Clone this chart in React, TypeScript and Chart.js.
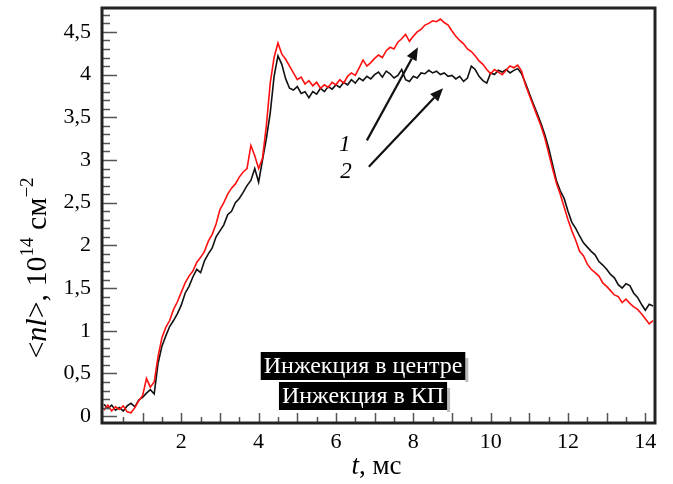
import React, { useEffect, useRef } from "react";
import { Chart, registerables } from "chart.js";

Chart.register(...registerables);

// ---- data ----
const timeMs = [
  0.0, 0.1, 0.2, 0.3, 0.4, 0.5, 0.6, 0.7, 0.8, 0.9,
  1.0, 1.1, 1.2, 1.3, 1.4, 1.5, 1.6, 1.7, 1.8, 1.9,
  2.0, 2.1, 2.2, 2.3, 2.4, 2.5, 2.6, 2.7, 2.8, 2.9,
  3.0, 3.1, 3.2, 3.3, 3.4, 3.5, 3.6, 3.7, 3.8, 3.9,
  4.0, 4.1, 4.2, 4.3, 4.4, 4.5, 4.6, 4.7, 4.8, 4.9,
  5.0, 5.1, 5.2, 5.3, 5.4, 5.5, 5.6, 5.7, 5.8, 5.9,
  6.0, 6.1, 6.2, 6.3, 6.4, 6.5, 6.6, 6.7, 6.8, 6.9,
  7.0, 7.1, 7.2, 7.3, 7.4, 7.5, 7.6, 7.7, 7.8, 7.9,
  8.0, 8.1, 8.2, 8.3, 8.4, 8.5, 8.6, 8.7, 8.8, 8.9,
  9.0, 9.1, 9.2, 9.3, 9.4, 9.5, 9.6, 9.7, 9.8, 9.9,
  10.0, 10.1, 10.2, 10.3, 10.4, 10.5, 10.6, 10.7, 10.8, 10.9,
  11.0, 11.1, 11.2, 11.3, 11.4, 11.5, 11.6, 11.7, 11.8, 11.9,
  12.0, 12.1, 12.2, 12.3, 12.4, 12.5, 12.6, 12.7, 12.8, 12.9,
  13.0, 13.1, 13.2, 13.3, 13.4, 13.5, 13.6, 13.7, 13.8, 13.9,
  14.0, 14.1, 14.2,
];

// curve 1 (red): injection in the centre
const nlCenter = [
  0.07, 0.13, 0.06, 0.11, 0.08, 0.12, 0.05, 0.04, 0.10, 0.18,
  0.24, 0.44, 0.34, 0.40, 0.70, 0.92, 1.04, 1.12, 1.25, 1.34,
  1.45, 1.56, 1.64, 1.70, 1.80, 1.86, 1.93, 2.05, 2.13, 2.25,
  2.42, 2.50, 2.60, 2.67, 2.72, 2.80, 2.86, 2.90, 3.17, 3.05,
  2.90, 3.02, 3.40, 3.90, 4.20, 4.37, 4.24, 4.18, 4.10, 4.02,
  3.94, 3.97, 3.89, 3.93, 3.87, 3.91, 3.84, 3.88, 3.85, 3.91,
  3.88, 3.94, 3.90, 3.98, 4.02, 3.99, 4.08, 4.17, 4.10, 4.14,
  4.19, 4.23, 4.20, 4.28, 4.32, 4.30, 4.38, 4.42, 4.47, 4.39,
  4.45, 4.50, 4.53, 4.58, 4.60, 4.63, 4.62, 4.65, 4.61, 4.58,
  4.51, 4.45, 4.40, 4.36, 4.30, 4.27, 4.22, 4.16, 4.12, 4.06,
  4.01, 4.06, 4.03, 4.00, 4.05, 4.10, 4.08, 4.11, 4.04, 3.88,
  3.76, 3.64, 3.52, 3.40, 3.26, 3.08, 2.90, 2.73, 2.60, 2.45,
  2.30, 2.17, 2.06, 1.93, 1.88, 1.78, 1.72, 1.68, 1.64, 1.56,
  1.52, 1.47, 1.42, 1.40, 1.33, 1.37, 1.32, 1.28, 1.25, 1.20,
  1.14, 1.08, 1.12,
];

// curve 2 (black): injection in the КП
const nlKP = [
  0.14, 0.09, 0.13, 0.07, 0.10, 0.06, 0.12, 0.15, 0.11, 0.19,
  0.22, 0.27, 0.31, 0.26, 0.62, 0.82, 0.94, 1.05, 1.12, 1.20,
  1.30, 1.44, 1.52, 1.63, 1.72, 1.68, 1.82, 1.90, 1.97, 2.10,
  2.17, 2.24, 2.36, 2.40, 2.50, 2.55, 2.62, 2.70, 2.76, 2.90,
  2.74, 3.00, 3.25, 3.55, 3.98, 4.22, 4.12, 3.95, 3.84, 3.82,
  3.86, 3.78, 3.80, 3.73, 3.80, 3.77, 3.84, 3.80, 3.86, 3.83,
  3.88, 3.85, 3.91, 3.88, 3.94, 3.90, 3.96, 3.93, 3.98, 3.95,
  4.00, 4.03, 3.97, 4.04, 4.01, 3.96, 3.99, 4.06, 3.94, 3.92,
  3.98, 3.96, 4.02, 4.01, 4.05, 4.02, 4.04, 4.00, 4.02, 3.98,
  3.99, 3.95, 3.98, 3.92, 3.96, 4.10, 4.06, 3.98, 3.93, 3.90,
  4.02, 4.00, 4.05, 4.03, 4.06, 4.02, 4.05, 4.07, 4.01, 3.90,
  3.78, 3.66, 3.55, 3.43, 3.30, 3.14, 2.95, 2.76, 2.64, 2.55,
  2.40, 2.27, 2.20, 2.11, 2.03, 1.98, 1.93, 1.89, 1.81, 1.77,
  1.72, 1.66, 1.62, 1.54, 1.50, 1.55, 1.53, 1.44, 1.39, 1.31,
  1.24, 1.31, 1.29,
];

const yTickValues = [0, 0.5, 1, 1.5, 2, 2.5, 3, 3.5, 4, 4.5];
const xTickValues = [2, 4, 6, 8, 10, 12, 14];
const legendLabels = ["Инжекция в центре", "Инжекция в КП"];
const curveLabels = ["1", "2"];
// curve label anchors [x (ms), y]
const curveLabelPos = [
  [6.23, 3.18],
  [6.26, 2.86],
];
// arrows: [x0, y0, x1, y1] in data units (start -> tip)
const arrows = [
  [6.8, 3.23, 8.12, 4.32],
  [6.85, 2.92, 8.77, 3.84],
];

const SERIF = '"Liberation Serif", "Times New Roman", serif';

const decorPlugin = {
  id: "decor",
  afterDraw(chart: any) {
    const { ctx, chartArea: a, scales } = chart;
    const xs = scales.x;
    const ys = scales.y;
    ctx.save();

    // inner tick marks
    ctx.strokeStyle = "#555";
    ctx.lineWidth = 1.5;
    ctx.beginPath();
    for (let k = 0; k <= 47; k++) {
      const py = Math.round(ys.getPixelForValue(k / 10)) + 0.5;
      if (py < a.top + 2) continue;
      const len = k % 5 === 0 ? 15 : 8;
      ctx.moveTo(a.left, py);
      ctx.lineTo(a.left + len, py);
    }
    for (let k = 1; k <= 28; k++) {
      const px = Math.round(xs.getPixelForValue(k / 2)) + 0.5;
      if (px > a.right - 2) continue;
      const len = k % 2 === 0 ? 10 : 6;
      ctx.moveTo(px, a.bottom);
      ctx.lineTo(px, a.bottom - len);
    }
    ctx.stroke();

    // frame
    ctx.strokeStyle = "#222";
    ctx.lineWidth = 3;
    ctx.strokeRect(a.left, a.top, a.right - a.left, a.bottom - a.top);

    // arrows
    ctx.strokeStyle = "#111";
    ctx.fillStyle = "#111";
    ctx.lineWidth = 2.2;
    for (const [x0, y0, x1, y1] of arrows) {
      const sx = xs.getPixelForValue(x0);
      const sy = ys.getPixelForValue(y0);
      const ex = xs.getPixelForValue(x1);
      const ey = ys.getPixelForValue(y1);
      const ang = Math.atan2(ey - sy, ex - sx);
      const hl = 13;
      const hw = 5.5;
      const bx = ex - hl * Math.cos(ang);
      const by = ey - hl * Math.sin(ang);
      ctx.beginPath();
      ctx.moveTo(sx, sy);
      ctx.lineTo(bx, by);
      ctx.stroke();
      ctx.beginPath();
      ctx.moveTo(ex, ey);
      ctx.lineTo(bx + hw * Math.sin(ang), by - hw * Math.cos(ang));
      ctx.lineTo(bx - hw * Math.sin(ang), by + hw * Math.cos(ang));
      ctx.closePath();
      ctx.fill();
    }

    // curve labels
    ctx.fillStyle = "#000";
    ctx.font = `italic 23px ${SERIF}`;
    ctx.textAlign = "center";
    ctx.textBaseline = "middle";
    curveLabels.forEach((t, i) => {
      const [lx, ly] = curveLabelPos[i];
      ctx.fillText(t, xs.getPixelForValue(lx), ys.getPixelForValue(ly));
    });

    // legend boxes (white text on black)
    ctx.font = `24px ${SERIF}`;
    const cx = a.left + 0.472 * (a.right - a.left);
    const boxTops = [a.bottom - 71, a.bottom - 41];
    legendLabels.forEach((t, i) => {
      const w = ctx.measureText(t).width + 6;
      const x0 = cx - w / 2;
      const y0 = boxTops[i];
      ctx.fillStyle = "#bbb";
      ctx.fillRect(x0 + w, y0 + 6, 3, 24);
      ctx.fillStyle = "#000";
      ctx.fillRect(x0, y0, w, 28);
      ctx.fillStyle = "#fff";
      ctx.fillText(t, cx, y0 + 15);
    });

    // x-axis title: "t, мс"
    {
      ctx.fillStyle = "#000";
      ctx.textAlign = "left";
      ctx.textBaseline = "alphabetic";
      const parts = [
        { t: "t", f: `italic 27px ${SERIF}` },
        { t: ", мс", f: `27px ${SERIF}` },
      ];
      let total = 0;
      for (const p of parts) {
        ctx.font = p.f;
        total += ctx.measureText(p.t).width;
      }
      let x = (a.left + a.right) / 2 - total / 2 - 2;
      const y = 474;
      for (const p of parts) {
        ctx.font = p.f;
        ctx.fillText(p.t, x, y);
        x += ctx.measureText(p.t).width;
      }
    }

    // y-axis title: "<nl>, 10^14 см^-2"
    {
      const parts = [
        { t: "<", f: `30px ${SERIF}`, dy: 0 },
        { t: "nl", f: `italic 30px ${SERIF}`, dy: 0 },
        { t: ">, 10", f: `30px ${SERIF}`, dy: 0 },
        { t: "14", f: `19px ${SERIF}`, dy: -13 },
        { t: " см", f: `30px ${SERIF}`, dy: 0 },
        { t: "−2", f: `19px ${SERIF}`, dy: -13 },
      ];
      let total = 0;
      for (const p of parts) {
        ctx.font = p.f;
        total += ctx.measureText(p.t).width;
      }
      ctx.translate(46, 268);
      ctx.rotate(-Math.PI / 2);
      ctx.fillStyle = "#000";
      ctx.textAlign = "left";
      ctx.textBaseline = "alphabetic";
      let x = -total / 2;
      for (const p of parts) {
        ctx.font = p.f;
        ctx.fillText(p.t, x, p.dy);
        x += ctx.measureText(p.t).width;
      }
    }
    ctx.restore();
  },
};

export default function App() {
  const ref = useRef<HTMLCanvasElement | null>(null);

  useEffect(() => {
    if (!ref.current) return;
    const chart = new Chart(ref.current, {
      type: "line",
      data: {
        datasets: [
          {
            label: "1",
            data: timeMs.map((t, i) => ({ x: t, y: nlCenter[i] })),
            borderColor: "#ff1010",
            borderWidth: 1.6,
            pointRadius: 0,
            tension: 0,
            fill: false,
          },
          {
            label: "2",
            data: timeMs.map((t, i) => ({ x: t, y: nlKP[i] })),
            borderColor: "#111",
            borderWidth: 1.6,
            pointRadius: 0,
            tension: 0,
            fill: false,
          },
        ],
      },
      options: {
        responsive: false,
        animation: false,
        layout: { padding: { left: 0, top: 8, right: 18, bottom: 0 } },
        plugins: {
          legend: { display: false },
          tooltip: { enabled: false },
        },
        scales: {
          x: {
            type: "linear",
            min: -0.05,
            max: 14.25,
            grid: { display: false, drawTicks: false },
            border: { display: false },
            afterBuildTicks: (s: any) => {
              s.ticks = xTickValues.map((v) => ({ value: v }));
            },
            afterFit: (s: any) => {
              s.height = 61;
              s.paddingLeft = 0;
              s.paddingRight = 0;
            },
            ticks: {
              autoSkip: false,
              maxRotation: 0,
              padding: 6,
              color: "#000",
              font: { family: SERIF, size: 22 },
              callback: (v: any) => String(v),
            },
          },
          y: {
            type: "linear",
            min: -0.08,
            max: 4.78,
            grid: { display: false, drawTicks: false },
            border: { display: false },
            afterBuildTicks: (s: any) => {
              s.ticks = yTickValues.map((v) => ({ value: v }));
            },
            afterFit: (s: any) => {
              s.width = 102;
              s.paddingTop = 0;
              s.paddingBottom = 0;
            },
            ticks: {
              autoSkip: false,
              padding: 11,
              color: "#000",
              font: { family: SERIF, size: 22 },
              callback: (v: any) => String(v).replace(".", ","),
            },
          },
        },
      },
      plugins: [decorPlugin],
    });
    return () => chart.destroy();
  }, []);

  return (
    <div style={{ position: "absolute", left: 0, top: 0, width: 673, height: 484, background: "#fff" }}>
      <canvas ref={ref} width={673} height={484} style={{ display: "block" }} />
    </div>
  );
}
